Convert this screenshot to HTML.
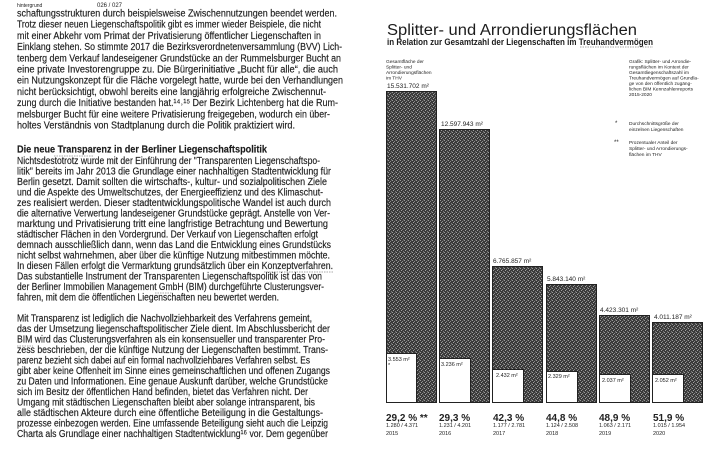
<!DOCTYPE html>
<html><head><meta charset="utf-8"><style>
html,body{margin:0;padding:0;background:#fff;width:720px;height:467px;overflow:hidden}
svg{display:block}
.b{font-family:"Liberation Sans",sans-serif;font-size:10px;fill:#1c1c1c;stroke:#1c1c1c;stroke-width:0.15}
.s{font-family:"Liberation Sans",sans-serif;fill:#222}
</style></head><body>
<svg width="720" height="467" viewBox="0 0 720 467" xmlns="http://www.w3.org/2000/svg">
<defs>
<pattern id="tex" width="4" height="4" patternUnits="userSpaceOnUse">
<rect width="4" height="4" fill="#3a3a3a"/>
<rect x="0" y="0" width="1" height="1" fill="#9a9a9a"/>
<rect x="2" y="1" width="1" height="1" fill="#8a8a8a"/>
<rect x="1" y="2" width="1" height="1" fill="#a0a0a0"/>
<rect x="3" y="3" width="1" height="1" fill="#7a7a7a"/>
<rect x="3" y="0" width="1" height="1" fill="#555"/>
</pattern>
</defs>
<text class="s" x="17" y="7" font-size="5">hintergrund</text>
<text class="s" x="97" y="7" font-size="6">026 / 027</text>
<g class="b">
<text x="17" y="16.5" textLength="320" lengthAdjust="spacingAndGlyphs">schaftungsstrukturen durch beispielsweise Zwischennutzungen beendet werden.</text>
<text x="17" y="27.7" textLength="304" lengthAdjust="spacingAndGlyphs">Trotz dieser neuen Liegenschaftspolitik gibt es immer wieder Beispiele, die nicht</text>
<text x="17" y="38.9" textLength="304" lengthAdjust="spacingAndGlyphs">mit einer Abkehr vom Primat der Privatisierung öffentlicher Liegenschaften in</text>
<text x="17" y="50.1" textLength="325" lengthAdjust="spacingAndGlyphs">Einklang stehen. So stimmte 2017 die Bezirksverordnetenversammlung (BVV) Lich-</text>
<text x="17" y="61.3" textLength="324" lengthAdjust="spacingAndGlyphs">tenberg dem Verkauf landeseigener Grundstücke an der Rummelsburger Bucht an</text>
<text x="17" y="72.5" textLength="321" lengthAdjust="spacingAndGlyphs">eine private Investorengruppe zu. Die Bürgerinitiative „Bucht für alle“, die auch</text>
<text x="17" y="83.7" textLength="326" lengthAdjust="spacingAndGlyphs">ein Nutzungskonzept für die Fläche vorgelegt hatte, wurde bei den Verhandlungen</text>
<text x="17" y="94.9" textLength="309" lengthAdjust="spacingAndGlyphs">nicht berücksichtigt, obwohl bereits eine langjährig erfolgreiche Zwischennut-</text>
<text x="17" y="106.1" textLength="321" lengthAdjust="spacingAndGlyphs">zung durch die Initiative bestanden hat.¹⁴˒¹⁵ Der Bezirk Lichtenberg hat die Rum-</text>
<text x="17" y="117.3" textLength="313" lengthAdjust="spacingAndGlyphs">melsburger Bucht für eine weitere Privatisierung freigegeben, wodurch ein über-</text>
<text x="17" y="128.5" textLength="278" lengthAdjust="spacingAndGlyphs">holtes Verständnis von Stadtplanung durch die Politik praktiziert wird.</text>
<text x="17" y="152.5" textLength="250" lengthAdjust="spacingAndGlyphs" font-weight="bold">Die neue Transparenz in der Berliner Liegenschaftspolitik</text>
<text x="17" y="164" textLength="303" lengthAdjust="spacingAndGlyphs">Nichtsdestotrotz wurde mit der Einführung der "Transparenten Liegenschaftspo-</text>
<text x="17" y="174.5" textLength="314" lengthAdjust="spacingAndGlyphs">litik" bereits im Jahr 2013 die Grundlage einer nachhaltigen Stadtentwicklung für</text>
<text x="17" y="185" textLength="310" lengthAdjust="spacingAndGlyphs">Berlin gesetzt. Damit sollten die wirtschafts-, kultur- und sozialpolitischen Ziele</text>
<text x="17" y="195.5" textLength="306" lengthAdjust="spacingAndGlyphs">und die Aspekte des Umweltschutzes, der Energieeffizienz und des Klimaschut-</text>
<text x="17" y="206" textLength="314" lengthAdjust="spacingAndGlyphs">zes realisiert werden. Dieser stadtentwicklungspolitische Wandel ist auch durch</text>
<text x="17" y="216.5" textLength="313" lengthAdjust="spacingAndGlyphs">die alternative Verwertung landeseigener Grundstücke geprägt. Anstelle von Ver-</text>
<text x="17" y="227" textLength="311" lengthAdjust="spacingAndGlyphs">marktung und Privatisierung tritt eine langfristige Betrachtung und Bewertung</text>
<text x="17" y="237.5" textLength="301" lengthAdjust="spacingAndGlyphs">städtischer Flächen in den Vordergrund. Der Verkauf von Liegenschaften erfolgt</text>
<text x="17" y="248" textLength="314" lengthAdjust="spacingAndGlyphs">demnach ausschließlich dann, wenn das Land die Entwicklung eines Grundstücks</text>
<text x="17" y="258.5" textLength="313" lengthAdjust="spacingAndGlyphs">nicht selbst wahrnehmen, aber über die künftige Nutzung mitbestimmen möchte.</text>
<text x="17" y="269" textLength="316" lengthAdjust="spacingAndGlyphs">In diesen Fällen erfolgt die Vermarktung grundsätzlich über ein Konzeptverfahren.</text>
<text x="17" y="279.5" textLength="305" lengthAdjust="spacingAndGlyphs">Das substantielle Instrument der Transparenten Liegenschaftspolitik ist das von</text>
<text x="17" y="290" textLength="307" lengthAdjust="spacingAndGlyphs">der Berliner Immobilien Management GmbH (BIM) durchgeführte Clusterungsver-</text>
<text x="17" y="300.5" textLength="262" lengthAdjust="spacingAndGlyphs">fahren, mit dem die öffentlichen Liegenschaften neu bewertet werden.</text>
<text x="17" y="321.5" textLength="295" lengthAdjust="spacingAndGlyphs">Mit Transparenz ist lediglich die Nachvollziehbarkeit des Verfahrens gemeint,</text>
<text x="17" y="332" textLength="313" lengthAdjust="spacingAndGlyphs">das der Umsetzung liegenschaftspolitischer Ziele dient. Im Abschlussbericht der</text>
<text x="17" y="342.5" textLength="308" lengthAdjust="spacingAndGlyphs">BIM wird das Clusterungsverfahren als ein konsensueller und transparenter Pro-</text>
<text x="17" y="353" textLength="311" lengthAdjust="spacingAndGlyphs">zess beschrieben, der die künftige Nutzung der Liegenschaften bestimmt. Trans-</text>
<text x="17" y="363.5" textLength="293" lengthAdjust="spacingAndGlyphs">parenz bezieht sich dabei auf ein formal nachvollziehbares Verfahren selbst. Es</text>
<text x="17" y="374" textLength="313" lengthAdjust="spacingAndGlyphs">gibt aber keine Offenheit im Sinne eines gemeinschaftlichen und offenen Zugangs</text>
<text x="17" y="384.5" textLength="311" lengthAdjust="spacingAndGlyphs">zu Daten und Informationen. Eine genaue Auskunft darüber, welche Grundstücke</text>
<text x="17" y="395" textLength="291" lengthAdjust="spacingAndGlyphs">sich im Besitz der öffentlichen Hand befinden, bietet das Verfahren nicht. Der</text>
<text x="17" y="405.5" textLength="298" lengthAdjust="spacingAndGlyphs">Umgang mit städtischen Liegenschaften bleibt aber solange intransparent, bis</text>
<text x="17" y="416" textLength="306" lengthAdjust="spacingAndGlyphs">alle städtischen Akteure durch eine öffentliche Beteiligung in die Gestaltungs-</text>
<text x="17" y="426.5" textLength="311" lengthAdjust="spacingAndGlyphs">prozesse einbezogen werden. Eine umfassende Beteiligung sieht auch die Leipzig</text>
<text x="17" y="437" textLength="311" lengthAdjust="spacingAndGlyphs">Charta als Grundlage einer nachhaltigen Stadtentwicklung¹⁶ vor. Dem gegenüber</text>
</g>
<g stroke="#555" stroke-width="0.6" stroke-dasharray="1.5,1" fill="none">
<line x1="54" y1="156" x2="94" y2="156"/>
<line x1="264" y1="272" x2="333" y2="272"/>
<line x1="155" y1="293" x2="172" y2="293"/>
<line x1="17" y1="346" x2="33" y2="346"/>
<line x1="580" y1="47" x2="653" y2="47"/>
</g>
<text x="387" y="35" font-family="Liberation Sans,sans-serif" font-size="15.5" fill="#1c1c1c" textLength="250" lengthAdjust="spacingAndGlyphs">Splitter- und Arrondierungsflächen</text>
<text x="387" y="45" font-family="Liberation Sans,sans-serif" font-size="9" font-weight="bold" fill="#1c1c1c" textLength="266" lengthAdjust="spacingAndGlyphs">in Relation zur Gesamtzahl der Liegenschaften im Treuhandvermögen</text>
<g class="s" font-size="4.8">
<text x="386" y="63">Gesamtfläche der</text><text x="386" y="68.5">Splitter- und</text><text x="386" y="74">Arrondierungsflächen</text><text x="386" y="79.5">im THV</text>
<text x="629" y="63">Grafik: Splitter- und Arrondie-</text><text x="629" y="68.5">rungsflächen im Kontext der</text><text x="629" y="74">Gesamtliegenschaftszahl im</text><text x="629" y="79.5">Treuhandvermögen auf Grundla-</text><text x="629" y="85">ge von den öffentlich zugäng-</text><text x="629" y="90.5">lichen BIM Kennzahlenreports</text><text x="629" y="96">2015-2020</text>
<text x="615" y="125" font-size="6">*</text><text x="629" y="125">Durchschnittsgröße der</text><text x="629" y="131">einzelnen Liegenschaften</text>
<text x="614" y="144" font-size="6">**</text><text x="629" y="144">Prozentualer Anteil der</text><text x="629" y="150">Splitter- und Arrondierungs-</text><text x="629" y="156">flächen im THV</text>
</g>
<g stroke="#222" stroke-width="1" fill="url(#tex)">
<rect x="386.5" y="91.5" width="50" height="311"/>
<rect x="439.5" y="129.5" width="50" height="273"/>
<rect x="492.5" y="266.5" width="50" height="136"/>
<rect x="546.5" y="284.5" width="50" height="118"/>
<rect x="599.5" y="315.5" width="50" height="87"/>
<rect x="652.5" y="322.5" width="50" height="80"/>
</g>
<g stroke="#222" stroke-width="1" fill="#fff">
<rect x="386.5" y="353.5" width="30" height="49"/>
<rect x="439.5" y="358.5" width="31" height="44"/>
<rect x="492.5" y="369.5" width="31" height="33"/>
<rect x="546.5" y="371.5" width="31" height="31"/>
<rect x="599.5" y="374.5" width="31" height="28"/>
<rect x="652.5" y="374.5" width="31" height="28"/>
</g>
<g class="s" font-size="6.5">
<text x="387" y="88">15.531.702 m²</text>
<text x="441" y="126">12.597.943 m²</text>
<text x="493" y="263">6.765.857 m²</text>
<text x="547" y="281">5.843.140 m²</text>
<text x="600" y="312">4.423.301 m²</text>
<text x="654" y="319">4.011.187 m²</text>
</g>
<g class="s" font-size="5.5">
<text x="388" y="361">3.553 m²</text><text x="388" y="367">*</text>
<text x="441" y="366">3.236 m²</text>
<text x="496" y="377">2.432 m²</text>
<text x="548" y="378">2.329 m²</text>
<text x="602" y="382">2.037 m²</text>
<text x="655" y="382">2.052 m²</text>
</g>
<g class="s" font-size="10" font-weight="bold">
<text x="386" y="421">29,2 % **</text><text x="439" y="421">29,3 %</text><text x="493" y="421">42,3 %</text><text x="546" y="421">44,8 %</text><text x="599" y="421">48,9 %</text><text x="653" y="421">51,9 %</text>
</g>
<g class="s" font-size="5.5">
<text x="386" y="427">1.280 / 4.371</text><text x="439" y="427">1.231 / 4.201</text><text x="493" y="427">1.177 / 2.781</text><text x="546" y="427">1.124 / 2.508</text><text x="599" y="427">1.063 / 2.171</text><text x="653" y="427">1.015 / 1.954</text>
<text x="386" y="435">2015</text><text x="439" y="435">2016</text><text x="493" y="435">2017</text><text x="546" y="435">2018</text><text x="599" y="435">2019</text><text x="653" y="435">2020</text>
</g>
</svg>
</body></html>
